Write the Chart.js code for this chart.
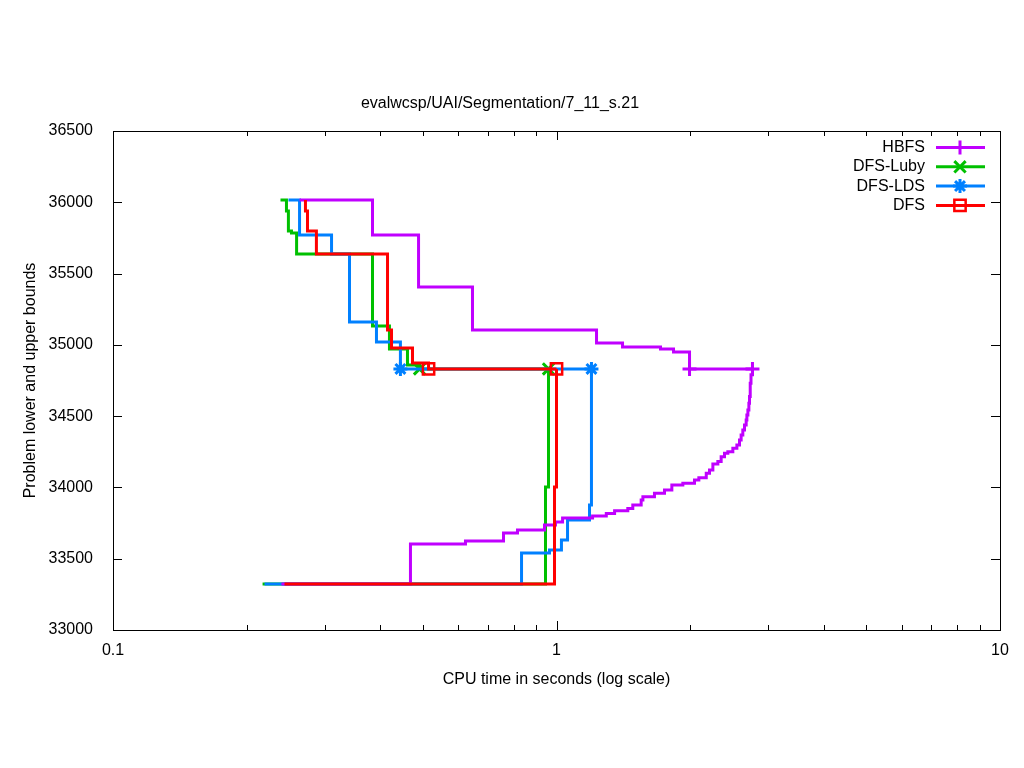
<!DOCTYPE html>
<html>
<head>
<meta charset="utf-8">
<title>evalwcsp/UAI/Segmentation/7_11_s.21</title>
<script src="https://cdn.jsdelivr.net/npm/chart.js@4.4.1/dist/chart.umd.min.js"></script>
<style>
  body { margin: 0; background: #fff; }
  canvas { display: block; }
</style>
</head>
<body>
<canvas id="chart" width="1024" height="768"></canvas>
<script>
// values: CPU time (s) where each bound changes, and the new bound
const hbfsUpperTime = [0.2634, 0.3847, 0.4886, 0.6465, 1.231, 1.409, 1.716, 1.836, 1.995, 2.766];
const hbfsUpperBound = [36016, 35771, 35406, 35104, 35013, 34985, 34971, 34950, 34831, 34831];
const hbfsLowerTime = [0.2398, 0.4685, 0.6234, 0.7595, 0.8167, 0.9395, 0.9948, 1.032, 1.206, 1.295,
  1.352, 1.448, 1.486, 1.552, 1.566, 1.663, 1.752, 1.820, 1.927, 2.047,
  2.094, 2.176, 2.213, 2.252, 2.311, 2.351, 2.392, 2.434, 2.498, 2.551,
  2.586, 2.608, 2.631, 2.654, 2.677, 2.687, 2.701, 2.715, 2.724, 2.734, 2.745, 2.766];
const hbfsLowerBound = [33323, 33603, 33624, 33680, 33701, 33736, 33757, 33786, 33800, 33818,
  33837, 33853, 33877, 33912, 33935, 33959, 33982, 34017, 34029, 34052,
  34068, 34099, 34122, 34164, 34181, 34216, 34239, 34251, 34274, 34298,
  34333, 34368, 34403, 34438, 34473, 34508, 34543, 34590, 34637, 34730, 34790, 34831];

const lubyUpperTime = [0.2386, 0.2461, 0.2486, 0.2526, 0.2594, 0.3847, 0.4201, 0.4613, 0.4911, 0.9593];
const lubyUpperBound = [36016, 35939, 35799, 35785, 35637, 35132, 34971, 34859, 34831, 34831];
const lubyLowerTime = [0.2174, 0.9445, 0.9593];
const lubyLowerBound = [33323, 34003, 34831];

const ldsUpperTime = [0.2487, 0.2634, 0.311, 0.3414, 0.3927, 0.4447, 1.199];
const ldsUpperBound = [36016, 35771, 35637, 35160, 35020, 34831, 34831];
const ldsLowerTime = [0.2196, 0.834, 0.9643, 1.026, 1.059, 1.187, 1.199];
const ldsLowerBound = [33323, 33540, 33561, 33631, 33772, 33877, 34831];

const dfsUpperTime = [0.2716, 0.2716, 0.2745, 0.2875, 0.4159, 0.4246, 0.4735, 0.5146, 1.0];
const dfsUpperBound = [36016, 35939, 35799, 35637, 35104, 34978, 34873, 34831, 34831];
const dfsLowerTime = [0.2436, 0.9897, 1.0];
const dfsLowerBound = [33323, 34003, 34831];

const xTickValues = [0.1, 1, 10];
const yMin = 33000, yMax = 36500, yStep = 500;

const FONT = '"Liberation Sans", Arial, sans-serif';

// legend order; `order` gives the stacking (lower = drawn on top)
const series = [
  { label: 'HBFS', color: '#c000ff', marker: 'cross', radius: 7, order: 2,
    upT: hbfsUpperTime, upB: hbfsUpperBound, upMark: 8, loT: hbfsLowerTime, loB: hbfsLowerBound },
  { label: 'DFS-Luby', color: '#00c000', marker: 'crossRot', radius: 8, order: 4,
    upT: lubyUpperTime, upB: lubyUpperBound, upMark: 8, loT: lubyLowerTime, loB: lubyLowerBound },
  { label: 'DFS-LDS', color: '#0080ff', marker: 'star', radius: 7, order: 3,
    upT: ldsUpperTime, upB: ldsUpperBound, upMark: 5, loT: ldsLowerTime, loB: ldsLowerBound },
  { label: 'DFS', color: '#ff0000', marker: 'rect', radius: 8, order: 1,
    upT: dfsUpperTime, upB: dfsUpperBound, upMark: 7, loT: dfsLowerTime, loB: dfsLowerBound }
];

function toPoints(t, b) {
  return t.map((x, i) => ({ x: x, y: b[i] }));
}

function makeDataset(s, t, b, markIdx, part) {
  return {
    label: s.label + ' ' + part,
    data: toPoints(t, b),
    borderColor: s.color,
    borderWidth: 3,
    stepped: true,
    fill: false,
    order: s.order,
    pointStyle: s.marker,
    pointRadius: t.map((_, i) => i === markIdx ? s.radius : 0),
    pointHoverRadius: 0,
    pointBorderColor: s.color,
    pointBackgroundColor: 'rgba(0,0,0,0)',
    pointBorderWidth: s.marker === 'rect' ? 2.5 : 3
  };
}

const datasets = [];
series.forEach(s => {
  datasets.push(makeDataset(s, s.upT, s.upB, s.upMark, 'upper'));
  datasets.push(makeDataset(s, s.loT, s.loB, s.loT.length - 1, 'lower'));
});

function drawMarker(ctx, style, x, y, r) {
  ctx.beginPath();
  if (style === 'cross' || style === 'star') {
    ctx.moveTo(x - r, y); ctx.lineTo(x + r, y);
    ctx.moveTo(x, y - r); ctx.lineTo(x, y + r);
  }
  if (style === 'crossRot' || style === 'star') {
    const d = r * Math.SQRT1_2;
    ctx.moveTo(x - d, y - d); ctx.lineTo(x + d, y + d);
    ctx.moveTo(x - d, y + d); ctx.lineTo(x + d, y - d);
  }
  if (style === 'rect') {
    const d = r * Math.SQRT1_2;
    ctx.rect(x - d, y - d, 2 * d, 2 * d);
  }
  ctx.stroke();
}

// gnuplot style frame with inward ticks on all four sides
const framePlugin = {
  id: 'frame',
  beforeDatasetsDraw(chart) {
    const { ctx, chartArea: a, scales } = chart;
    ctx.save();
    ctx.strokeStyle = '#000';
    ctx.lineWidth = 1;
    ctx.beginPath();
    for (let v = yMin; v <= yMax; v += yStep) {
      const py = Math.round(scales.y.getPixelForValue(v)) + 0.5;
      ctx.moveTo(a.left, py); ctx.lineTo(a.left + 9, py);
      ctx.moveTo(a.right, py); ctx.lineTo(a.right - 9, py);
    }
    for (let d = 0.1; d < 10; d *= 10) {
      for (let k = 1; k <= 10; k++) {
        const px = Math.round(scales.x.getPixelForValue(k * d)) + 0.5;
        const len = (k === 1 || k === 10) ? 9 : 5;
        ctx.moveTo(px, a.bottom); ctx.lineTo(px, a.bottom - len);
        ctx.moveTo(px, a.top); ctx.lineTo(px, a.top + len);
      }
    }
    ctx.stroke();
    ctx.strokeRect(Math.round(a.left) + 0.5, Math.round(a.top) + 0.5,
      Math.round(a.right - a.left), Math.round(a.bottom - a.top));
    ctx.restore();
  },
  afterDraw(chart) {
    const { ctx, chartArea: a } = chart;
    ctx.save();
    ctx.font = '16px ' + FONT;
    ctx.textAlign = 'right';
    ctx.textBaseline = 'middle';
    series.forEach((s, i) => {
      const y = a.top + 16.5 + i * 19.3;
      ctx.fillStyle = '#000';
      ctx.fillText(s.label, a.right - 75, y);
      ctx.strokeStyle = s.color;
      ctx.lineWidth = 3;
      ctx.beginPath();
      ctx.moveTo(a.right - 64, y); ctx.lineTo(a.right - 15, y);
      ctx.stroke();
      ctx.lineWidth = s.marker === 'rect' ? 2.5 : 3;
      drawMarker(ctx, s.marker, a.right - 40, y, s.radius);
    });
    ctx.restore();
  }
};

new Chart(document.getElementById('chart'), {
  type: 'line',
  data: { datasets: datasets },
  options: {
    responsive: false,
    animation: false,
    events: [],
    layout: { padding: { left: 0, right: 24, top: 0, bottom: 0 } },
    plugins: {
      legend: { display: false },
      tooltip: { enabled: false },
      title: {
        display: true,
        text: 'evalwcsp/UAI/Segmentation/7_11_s.21',
        color: '#000',
        font: { family: FONT, size: 16, weight: 'normal' },
        padding: { top: 94, bottom: 17.8 }
      }
    },
    scales: {
      x: {
        type: 'logarithmic',
        min: 0.1,
        max: 10,
        grid: { display: false },
        border: { display: false },
        afterBuildTicks: scale => { scale.ticks = xTickValues.map(v => ({ value: v })); },
        afterFit: scale => { scale.height = 138; },
        ticks: {
          color: '#000',
          font: { family: FONT, size: 16 },
          padding: 3,
          autoSkip: false,
          maxRotation: 0,
          callback: v => String(v)
        },
        title: {
          display: true,
          text: 'CPU time in seconds (log scale)',
          color: '#000',
          font: { family: FONT, size: 16 },
          padding: { top: 0, bottom: 78.5 }
        }
      },
      y: {
        min: yMin,
        max: yMax,
        grid: { display: false },
        border: { display: false },
        afterFit: scale => { scale.width = 113; },
        ticks: {
          stepSize: yStep,
          color: '#000',
          font: { family: FONT, size: 16 },
          padding: 12,
          callback: v => String(v)
        },
        title: {
          display: true,
          text: 'Problem lower and upper bounds',
          color: '#000',
          font: { family: FONT, size: 16 },
          padding: { top: 21.4, bottom: 0 }
        }
      }
    }
  },
  plugins: [framePlugin]
});
</script>
</body>
</html>
